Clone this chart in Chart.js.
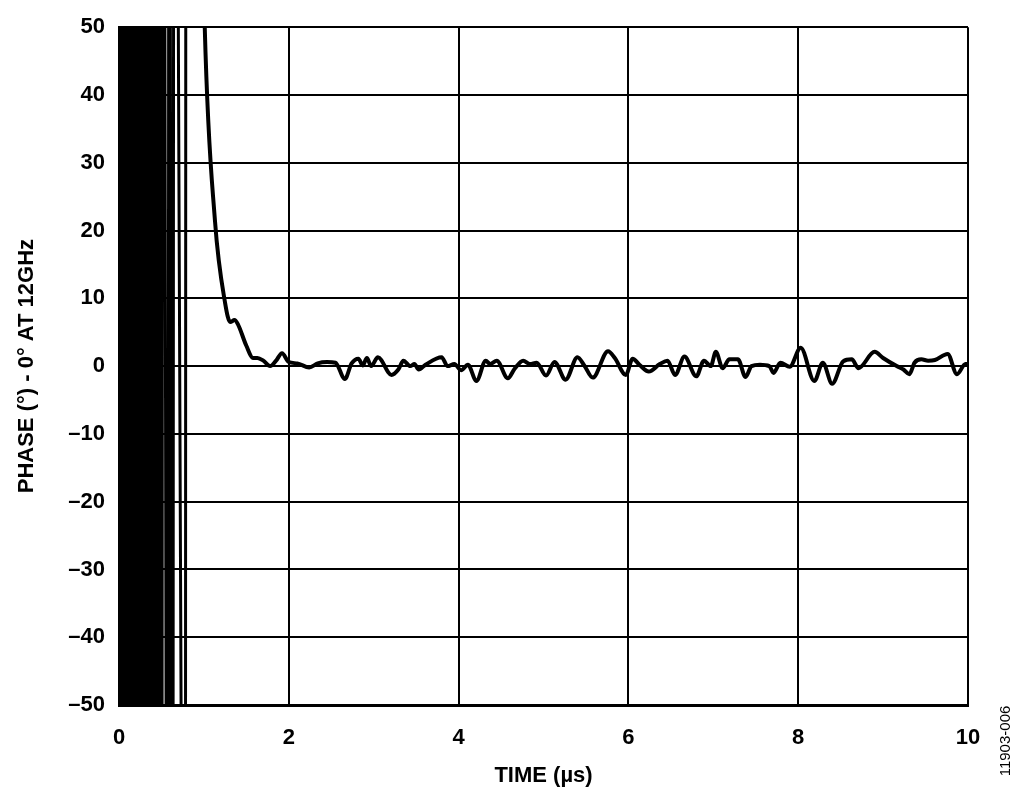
<!DOCTYPE html>
<html lang="en">
  <head>
    <meta charset="UTF-8" />
    <script src="https://cdn.jsdelivr.net/npm/chart.js"></script>
    <title>Phase settling</title>
    <style>
      body { margin: 0; background: #fff; }
      #wrap { width: 1024px; height: 811px; }
    </style>
  </head>
  <body>
    <div id="wrap"><canvas id="c"></canvas></div>

    <script>
      // early lock transient: phase wraps wildly, drawn as near-vertical swings
      const spikeX = [0, 0.02, 0.04, 0.06, 0.08, 0.10, 0.12, 0.14, 0.16, 0.18, 0.20, 0.22, 0.24, 0.26, 0.28,
        0.30, 0.32, 0.34, 0.36, 0.38, 0.40, 0.42, 0.44, 0.46, 0.48, 0.50, 0.52, 0.575, 0.59, 0.63, 0.65, 0.78, 0.79]
      const spikeY = [200, -200, 200, -200, 200, -200, 200, -200, 200, -200, 200, -200, 200, -200, 200,
        -200, 200, -200, 200, -200, 200, -200, 200, -200, 200, -200, 200, -200, 200, -200, 200, -200, 200]

      // settled phase
      const timeUs = [0.98, 1.01, 1.13, 1.25, 1.31, 1.36, 1.40, 1.50, 1.58, 1.63, 1.70, 1.78, 1.85, 1.92, 2.0, 2.1, 2.24, 2.34, 2.45, 2.55,
        2.66, 2.74, 2.82, 2.87, 2.92, 2.97, 3.05, 3.21, 3.29, 3.35, 3.43, 3.48, 3.53, 3.61, 3.80, 3.87, 3.95, 4.03, 4.11,
        4.21, 4.32, 4.37, 4.45, 4.58, 4.66, 4.76, 4.84, 4.92, 5.03, 5.13, 5.26, 5.40, 5.48, 5.58, 5.76, 5.84, 5.97, 6.05,
        6.13, 6.24, 6.37, 6.46, 6.55, 6.66, 6.80, 6.89, 6.97, 7.03, 7.11, 7.19, 7.29, 7.38, 7.45, 7.55, 7.66, 7.71, 7.79,
        7.90, 8.03, 8.19, 8.29, 8.40, 8.53, 8.63, 8.71, 8.90, 9.0, 9.16, 9.24, 9.31, 9.37, 9.45, 9.53, 9.61, 9.76, 9.87, 9.97, 10.0]
      const phaseDeg = [70, 50, 21.5, 9.3, 6.5, 6.8, 6.2, 3.0, 1.2, 1.2, 0.8, 0, 0.8, 1.9, 0.6, 0.4, -0.2, 0.4, 0.6, 0.5,
        -1.9, 0.4, 1.1, 0.1, 1.2, 0, 1.3, -1.3, -0.5, 0.8, 0, 0.3, -0.5, 0.2, 1.3, 0, 0.3, -0.6, 0.2,
        -2.2, 0.8, 0.3, 0.8, -1.8, -0.4, 0.8, 0.3, 0.5, -1.4, 0.6, -2.0, 1.3, 0.1, -1.7, 2.2, 1.2, -1.3, 1.1,
        0.2, -0.8, 0.3, 0.8, -1.3, 1.4, -1.5, 0.8, 0, 2.1, -0.3, 1.0, 1.0, -1.6, 0, 0.2, 0, -1.0, 0.5,
        -0.1, 2.7, -2.2, 0.5, -2.6, 0.7, 1.0, -0.3, 2.1, 1.2, 0, -0.5, -1.2, 0.5, 1.0, 0.8, 0.9, 1.8, -1.2, 0.3, 0.3]

      const xTicks = [0, 2, 4, 6, 8, 10]
      const yTicks = [50, 40, 30, 20, 10, 0, -10, -20, -30, -40, -50]

      const font = { family: "'Liberation Sans', Arial, sans-serif", size: 22, weight: 'bold' }
      const fmt = (v) => (v < 0 ? '\u2013' + Math.abs(v) : String(v))

      const figNumber = {
        id: 'figNumber',
        afterDraw(chart) {
          const ctx = chart.ctx
          ctx.save()
          ctx.translate(1006, 741)
          ctx.rotate(-Math.PI / 2)
          ctx.font = "15px 'Liberation Sans', Arial, sans-serif"
          ctx.fillStyle = '#000'
          ctx.textAlign = 'center'
          ctx.textBaseline = 'middle'
          ctx.fillText('11903-006', 0, 0)
          ctx.restore()
        },
      }

      new Chart(document.getElementById('c'), {
        type: 'line',
        data: {
          datasets: [
            {
              data: spikeX.map((x, i) => ({ x, y: spikeY[i] })),
              borderColor: '#000',
              borderWidth: 3,
              pointRadius: 0,
              tension: 0,
            },
            {
              data: timeUs.map((x, i) => ({ x, y: phaseDeg[i] })),
              borderColor: '#000',
              borderWidth: 4,
              pointRadius: 0,
              tension: 0.4,
              cubicInterpolationMode: 'monotone',
            },
          ],
        },
        options: {
          responsive: true,
          maintainAspectRatio: false,
          animation: false,
          layout: { padding: { top: 27, right: 56, left: 0, bottom: 0 } },
          plugins: { legend: { display: false }, tooltip: { enabled: false } },
          scales: {
            x: {
              type: 'linear',
              min: 0,
              max: 10,
              afterBuildTicks: (s) => { s.ticks = xTicks.map((v) => ({ value: v })) },
              afterFit: (s) => { s.height = 106 },
              grid: { color: '#000', lineWidth: 2, drawTicks: false },
              border: { color: '#000', width: 3 },
              ticks: { color: '#000', font, padding: 20, maxRotation: 0 },
              title: { display: true, text: 'TIME (µs)', color: '#000', font, padding: { top: 4, bottom: 22 } },
            },
            y: {
              min: -50,
              max: 50,
              afterBuildTicks: (s) => { s.ticks = yTicks.map((v) => ({ value: v })) },
              afterFit: (s) => { s.width = 119 },
              grid: { color: '#000', lineWidth: 2, drawTicks: false },
              border: { color: '#000', width: 3 },
              ticks: { color: '#000', font, padding: 14, callback: fmt },
              title: { display: true, text: 'PHASE (°) - 0° AT 12GHz', color: '#000', font, padding: { top: 14, bottom: 0 } },
            },
          },
        },
        plugins: [figNumber],
      })
    </script>
  </body>
</html>
